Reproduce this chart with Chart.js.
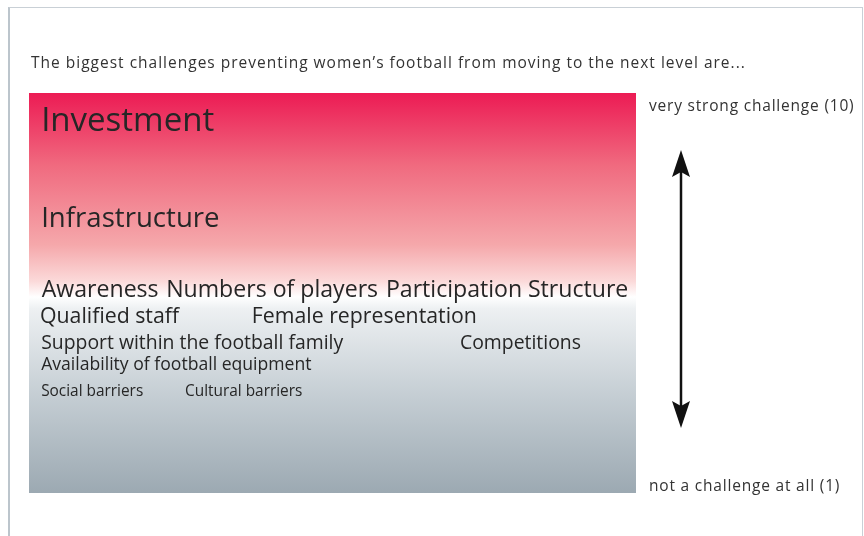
<!DOCTYPE html>
<html>
<head>
<meta charset="utf-8">
<script src="https://cdn.jsdelivr.net/npm/chart.js@4"></script>
<style>
  body { margin: 0; background: #fff; }
  #frame { position: absolute; left: 8px; top: 7px; width: 852px; height: 600px;
           border: 1px solid #c9d0d6; border-left: 2px solid #bcc5cc; }
  #wrap { position: absolute; left: 0; top: 0; width: 864px; height: 536px; }
</style>
</head>
<body>
<div id="frame"></div>
<div id="wrap"><canvas id="myChart" width="864" height="536"></canvas></div>
<script>
// challenges and their average rating (1 = not a challenge, 10 = very strong)
var categories = ['Investment', 'Infrastructure', 'Awareness', 'Numbers of players', 'Participation', 'Structure',
  'Qualified staff', 'Female representation', 'Support within the football family', 'Competitions',
  'Availability of football equipment', 'Social barriers', 'Cultural barriers'];
var scores = [9.4, 7.2, 5.6, 5.6, 5.6, 5.6, 5.0, 5.0, 4.4, 4.4, 3.9, 3.3, 3.3];
// horizontal slot of each word inside the row (0-100)
var column = [2, 2, 2.1, 22.6, 58.8, 82.2, 1.8, 36.7, 2, 71, 2, 2, 25.7];

var title = 'The biggest challenges preventing women\u2019s football from moving to the next level are...';
var topLabel = 'very strong challenge (10)';
var bottomLabel = 'not a challenge at all (1)';

var points = [];
for (var i = 0; i < categories.length; i++) {
  points.push({ x: column[i], y: scores[i] });
}

var fontName = '"Open Sans", sans-serif';

var backgroundPlugin = {
  id: 'bg',
  beforeDraw: function (chart) {
    var ctx = chart.ctx, a = chart.chartArea;
    var g = ctx.createLinearGradient(0, a.top, 0, a.bottom);
    g.addColorStop(0, '#ec1b54');
    g.addColorStop(0.18, '#f06a7f');
    g.addColorStop(0.38, '#f5a8ab');
    g.addColorStop(0.47, '#fbd9d9');
    g.addColorStop(0.51, '#ffffff');
    g.addColorStop(0.54, '#edf0f2');
    g.addColorStop(0.76, '#c4cdd3');
    g.addColorStop(1, '#9ca9b2');
    ctx.save();
    ctx.fillStyle = g;
    ctx.fillRect(a.left, a.top, a.right - a.left, a.bottom - a.top);
    ctx.restore();
  }
};

var wordsPlugin = {
  id: 'words',
  afterDatasetsDraw: function (chart) {
    var ctx = chart.ctx, a = chart.chartArea;
    var meta = chart.getDatasetMeta(0);
    ctx.save();
    ctx.fillStyle = '#262626';
    ctx.textAlign = 'left';
    ctx.textBaseline = 'alphabetic';
    for (var i = 0; i < meta.data.length; i++) {
      var pt = meta.data[i];
      var size = 14.09 * Math.sqrt(scores[i]) - 10.2;
      ctx.font = size.toFixed(1) + 'px ' + fontName;
      ctx.fillText(categories[i], pt.x, pt.y + size * 0.714 / 2);
    }

    // title and scale labels
    ctx.fillStyle = '#333';
    ctx.font = '15.5px ' + fontName;
    ctx.letterSpacing = '1px';
    ctx.fillText(title, 31, 68);
    var yTop = chart.scales.y.getPixelForValue(10);
    var yBot = chart.scales.y.getPixelForValue(1);
    ctx.letterSpacing = '0.8px';
    ctx.fillText(topLabel, a.right + 13, yTop + 18);
    ctx.fillText(bottomLabel, a.right + 13, yBot - 2);
    ctx.letterSpacing = '0px';

    // double arrow
    var ax = a.right + 45;
    var t = yTop + 57, b = yBot - 65;
    ctx.strokeStyle = '#111';
    ctx.fillStyle = '#111';
    ctx.lineWidth = 2.5;
    ctx.beginPath();
    ctx.moveTo(ax, t + 20);
    ctx.lineTo(ax, b - 20);
    ctx.stroke();
    ctx.beginPath();
    ctx.moveTo(ax, t);
    ctx.lineTo(ax - 9, t + 27);
    ctx.lineTo(ax, t + 22);
    ctx.lineTo(ax + 9, t + 27);
    ctx.closePath();
    ctx.fill();
    ctx.beginPath();
    ctx.moveTo(ax, b);
    ctx.lineTo(ax - 9, b - 27);
    ctx.lineTo(ax, b - 22);
    ctx.lineTo(ax + 9, b - 27);
    ctx.closePath();
    ctx.fill();
    ctx.restore();
  }
};

function drawdata() {
  const ctx = document.getElementById('myChart');
  new Chart(ctx, {
    type: 'scatter',
    data: {
      datasets: [{
        data: points,
        pointRadius: 0,
        pointHoverRadius: 0
      }]
    },
    options: {
      responsive: false,
      animation: false,
      layout: { padding: { left: 29, top: 93, right: 228, bottom: 43 } },
      plugins: { legend: { display: false }, tooltip: { enabled: false } },
      scales: {
        x: { display: false, min: 0, max: 100 },
        y: { display: false, min: 1, max: 10 }
      }
    },
    plugins: [backgroundPlugin, wordsPlugin]
  });
}
drawdata();
</script>
</body>
</html>
